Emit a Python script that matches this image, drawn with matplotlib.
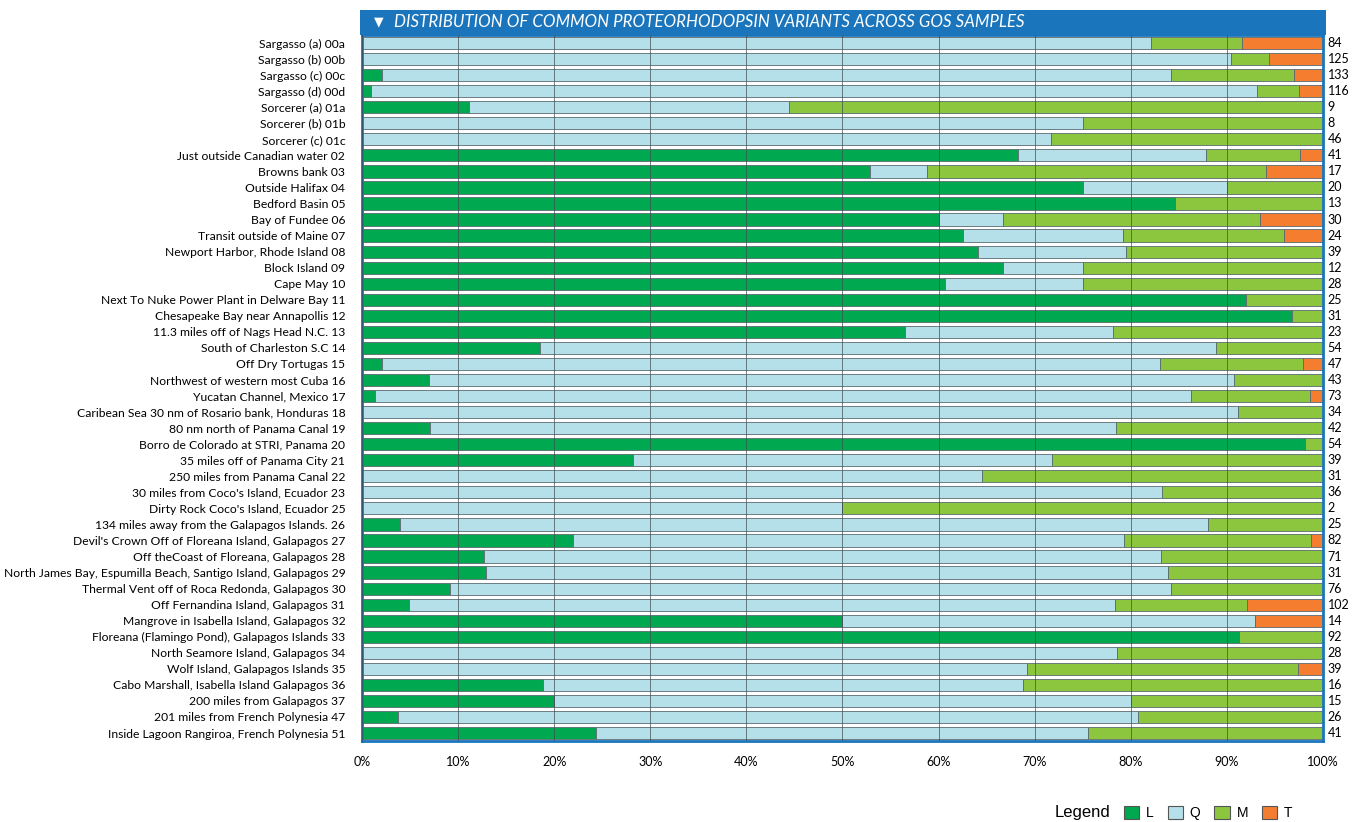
import matplotlib
matplotlib.use("Agg")
import matplotlib.pyplot as plt
import matplotlib.transforms as mtransforms
from matplotlib.patches import Patch, Rectangle
import numpy as np

plt.rcParams["font.family"] = ["Lato", "DejaVu Sans"]

SITES = [
    "Sargasso (a) 00a", "Sargasso (b) 00b", "Sargasso (c) 00c", "Sargasso (d) 00d",
    "Sorcerer (a) 01a", "Sorcerer (b) 01b", "Sorcerer (c) 01c",
    "Just outside Canadian water 02", "Browns bank 03", "Outside Halifax 04",
    "Bedford Basin 05", "Bay of Fundee 06", "Transit outside of Maine 07",
    "Newport Harbor, Rhode Island 08", "Block Island 09", "Cape May 10",
    "Next To Nuke Power Plant in Delware Bay 11", "Chesapeake Bay near Annapollis 12",
    "11.3 miles off of Nags Head N.C. 13", "South of Charleston S.C 14",
    "Off Dry Tortugas 15", "Northwest of western most Cuba 16",
    "Yucatan Channel, Mexico 17", "Caribean Sea 30 nm of Rosario bank, Honduras 18",
    "80 nm north of Panama Canal 19", "Borro de Colorado at STRI, Panama 20",
    "35 miles off of Panama City 21", "250 miles from Panama Canal 22",
    "30 miles from Coco's Island, Ecuador 23", "Dirty Rock Coco's Island, Ecuador 25",
    "134 miles away from the Galapagos Islands. 26",
    "Devil's Crown Off of Floreana Island, Galapagos 27",
    "Off theCoast of Floreana, Galapagos 28",
    "North James Bay, Espumilla Beach, Santigo Island, Galapagos 29",
    "Thermal Vent off of Roca Redonda, Galapagos 30",
    "Off Fernandina Island, Galapagos 31", "Mangrove in Isabella Island, Galapagos 32",
    "Floreana (Flamingo Pond), Galapagos Islands 33", "North Seamore Island, Galapagos 34",
    "Wolf Island, Galapagos Islands 35", "Cabo Marshall, Isabella Island Galapagos 36",
    "200 miles from Galapagos 37", "201 miles from French Polynesia 47",
    "Inside Lagoon Rangiroa, French Polynesia 51",
]

# percent of each variant per sample
L = [0, 0, 2.1, 0.9, 11.1, 0, 0, 68.3, 52.9, 75, 84.6, 60, 62.5, 64.1, 66.7, 60.7,
     92, 96.8, 56.5, 18.5, 2.1, 7.0, 1.4, 0, 7.1, 98.1, 28.2, 0, 0, 0, 4, 22.0,
     12.7, 12.9, 9.2, 4.9, 50, 91.3, 0, 0, 18.8, 20, 3.8, 24.4]
Q = [82.1, 90.4, 82.1, 92.2, 33.3, 75, 71.7, 19.5, 5.9, 15, 0, 6.7, 16.7, 15.4, 8.3, 14.3,
     0, 0, 21.7, 70.4, 80.9, 83.7, 84.9, 91.2, 71.4, 0, 43.6, 64.5, 83.3, 50, 84, 57.3,
     70.4, 71.0, 75.0, 73.5, 42.9, 0, 78.6, 69.2, 50.0, 60, 76.9, 51.2]
M = [9.5, 4.0, 12.8, 4.4, 55.6, 25, 28.3, 9.8, 35.3, 10, 15.4, 26.7, 16.7, 20.5, 25, 25,
     8, 3.2, 21.8, 11.1, 14.9, 9.3, 12.4, 8.8, 21.5, 1.9, 28.2, 35.5, 16.7, 50, 12, 19.5,
     16.9, 16.1, 15.8, 13.7, 0, 8.7, 21.4, 28.2, 31.2, 20, 19.3, 24.4]
T = [8.4, 5.6, 3.0, 2.5, 0, 0, 0, 2.4, 5.9, 0, 0, 6.6, 4.1, 0, 0, 0,
     0, 0, 0, 0, 2.1, 0, 1.3, 0, 0, 0, 0, 0, 0, 0, 0, 1.2,
     0, 0, 0, 7.9, 7.1, 0, 0, 2.6, 0, 0, 0, 0]
COUNTS = [84, 125, 133, 116, 9, 8, 46, 41, 17, 20, 13, 30, 24, 39, 12, 28,
          25, 31, 23, 54, 47, 43, 73, 34, 42, 54, 39, 31, 36, 2, 25, 82,
          71, 31, 76, 102, 14, 92, 28, 39, 16, 15, 26, 41]
XTICKS = [0, 10, 20, 30, 40, 50, 60, 70, 80, 90, 100]

VARIANTS = ["L", "Q", "M", "T"]
COLORS = ["#00a84f", "#b5e0ea", "#8cc63f", "#f47d30"]
BLUE = "#1b75bc"

fig = plt.figure(figsize=(13.67, 8.22), dpi=100)
ax = fig.add_axes([0.2648, 0.0985, 0.7030, 0.8589])

y = np.arange(len(SITES))
left = np.zeros(len(SITES))
for name, vals, color in zip(VARIANTS, [L, Q, M, T], COLORS):
    vals = np.array(vals, dtype=float)
    ax.barh(y, vals, left=left, height=0.76, color=color,
            edgecolor="#5a6a70", linewidth=0.6, label=name, zorder=2)
    left += vals

ax.set_ylim(len(SITES) - 0.5, -0.5)
ax.set_xlim(0, 100)
ax.set_yticks(y)
ax.set_yticklabels(SITES, fontsize=8.7)
ax.set_xticks(XTICKS)
ax.set_xticklabels([f"{t}%" for t in XTICKS], fontsize=9)
ax.tick_params(length=0)
ax.tick_params(axis="y", pad=12)
ax.tick_params(axis="x", pad=11)
ax.grid(axis="x", color="#3c4a50", linewidth=0.6, alpha=0.8, zorder=3)
ax.set_axisbelow(False)
for sp in ax.spines.values():
    sp.set_color(BLUE)
    sp.set_linewidth(2)

trans = mtransforms.blended_transform_factory(ax.transAxes, ax.transData)
for yi, c in zip(y, COUNTS):
    ax.text(1.005, yi, str(c), transform=trans, ha="left", va="center", fontsize=9)

# title banner
fig.patches.append(Rectangle((0.2634, 0.9574), 0.7067, 0.0310, transform=fig.transFigure,
                             facecolor=BLUE, edgecolor="none", zorder=0))
fig.text(0.2735, 0.9729, "\u25bc", color="white", fontsize=9, va="center",
         family=["DejaVu Sans"])
fig.text(0.2880, 0.9729,
         "DISTRIBUTION OF COMMON PROTEORHODOPSIN VARIANTS ACROSS GOS SAMPLES",
         color="white", fontsize=12.2, style="italic", va="center")

handles = [Patch(facecolor=c, edgecolor="#555555", linewidth=0.8) for c in COLORS]
fig.text(0.7715, 0.011, "Legend", fontsize=12, va="center",
         family=["Liberation Sans", "DejaVu Sans"])
fig.legend(handles, VARIANTS, ncol=4, frameon=False, loc="center left",
           bbox_to_anchor=(0.822, 0.011), handlelength=1.1, handleheight=1.1,
           handletextpad=0.5, columnspacing=1.0, borderaxespad=0, borderpad=0,
           prop={"family": ["Liberation Sans", "DejaVu Sans"], "size": 10})

fig.savefig("out.png", dpi=100)
